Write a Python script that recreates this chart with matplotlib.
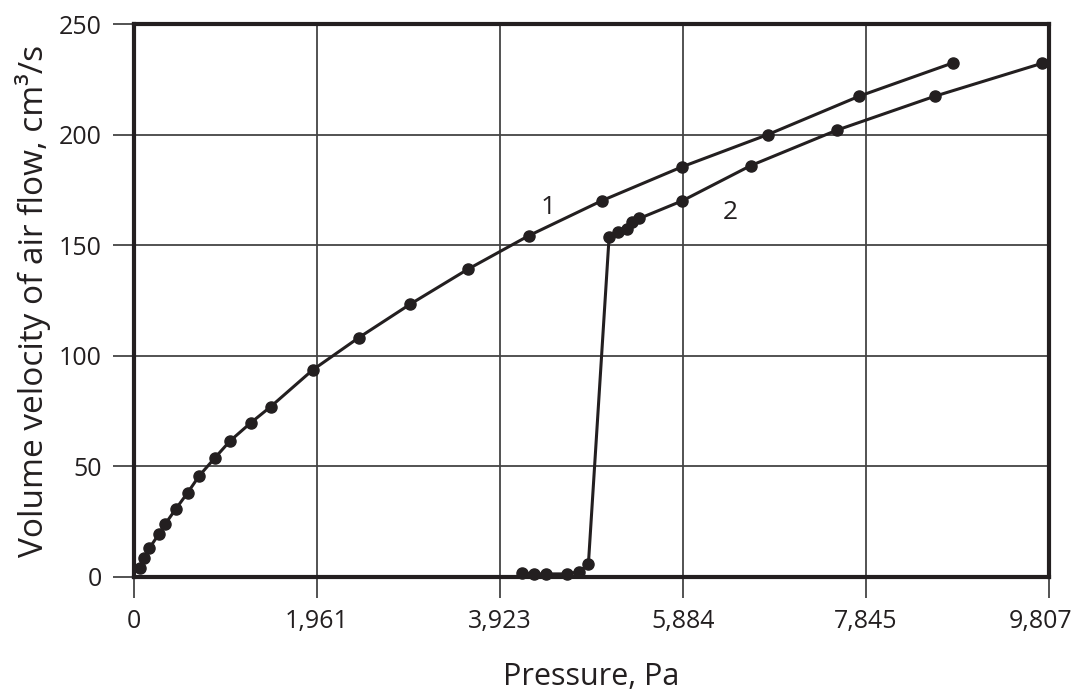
import matplotlib
matplotlib.use("Agg")
import matplotlib.pyplot as plt
import matplotlib.transforms as mtransforms

# Series 1
x1 = [64, 111, 164, 265, 332, 447, 575, 700, 868, 1029, 1254, 1465,
      1915, 2409, 2959, 3577, 4231, 5013, 5878, 6793, 7775, 8783]
y1 = [3.9, 8.5, 13, 19.3, 23.8, 30.7, 38.1, 45.8, 53.9, 61.5, 69.8, 77,
      93.6, 108.2, 123.3, 139.1, 154.3, 170.1, 185.5, 200, 217.4, 232.5]
# Series 2
x2 = [4156, 4292, 4414, 4639, 4770, 4870, 5092, 5185, 5281, 5342, 5417,
      5878, 6611, 7533, 8587, 9730]
y2 = [2, 1.4, 1.4, 1.4, 2.4, 5.7, 153.6, 155.8, 157.2, 160.3, 162.1,
      170.1, 186, 202, 217.4, 232.2]

xticks = [0, 1961, 3923, 5884, 7845, 9807]
xticklabels = ["0", "1,961", "3,923", "5,884", "7,845", "9,807"]
yticks = [0, 50, 100, 150, 200, 250]

labels = ["1", "2"]
label_pos = [(4440, 167), (6390, 165)]

plt.rcParams['font.family'] = ['Open Sans', 'DejaVu Sans']
ink = '#231f20'

fig = plt.figure(figsize=(10.77, 6.97), dpi=100)
ax = fig.add_axes([134/1077, 120/697, 915/1077, 553/697])

ax.plot(x1, y1, '-o', color=ink, lw=2.2, ms=8, zorder=3, clip_on=False)
ax.plot(x2, y2, '-o', color=ink, lw=2.2, ms=8, zorder=3, clip_on=False)

for t, (px, py) in zip(labels, label_pos):
    ax.text(px, py, t, fontsize=19, color=ink, ha='center', va='center')

ax.set_xlim(0, 9807)
ax.set_ylim(0, 250)
ax.set_xticks(xticks)
ax.set_xticklabels(xticklabels)
ax.set_yticks(yticks)
ax.grid(True, color='#444444', lw=1.3, zorder=1)
ax.set_axisbelow(True)
for s in ax.spines.values():
    s.set_linewidth(3)
    s.set_color(ink)
    s.set_zorder(4)
ax.tick_params(direction='out', length=15, width=1.3, color='#444444',
               labelsize=18, labelcolor=ink, pad=8)
# keep the last x tick label inside the figure
last = ax.get_xticklabels()[-1]
last.set_transform(last.get_transform() +
                   mtransforms.ScaledTranslation(-8/100, 0, fig.dpi_scale_trans))
ax.set_xlabel("Pressure, Pa", fontsize=22, color=ink, labelpad=20)
ax.set_ylabel("Volume velocity of air flow, cm³/s", fontsize=24, color=ink, labelpad=6)

fig.savefig("out.png", dpi=100)
